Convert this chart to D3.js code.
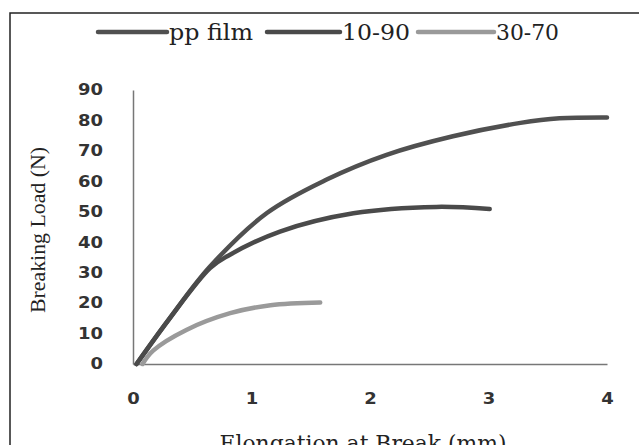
<!DOCTYPE html>
<html>
<head>
<meta charset="utf-8">
<script src="https://cdn.jsdelivr.net/npm/d3@7"></script>
<style>
  body { margin: 0; background: #fff; }
  svg { display: block; }
</style>
</head>
<body>
<div id="chart"></div>
<script>
// series data (elongation mm, load N)
const seriesNames = ["pp film", "10-90", "30-70"];
const ppFilm = [[0.03, 0], [0.3, 14.5], [0.65, 32], [1.13, 49.6], [1.63, 60.5], [2.14, 68.7], [2.7, 74.8], [3.27, 79.2], [3.6, 80.7], [4.0, 81]];
const blend1090 = [[0.03, 0], [0.3, 14.5], [0.65, 31.5], [0.8, 35.5], [1.24, 43.5], [1.86, 49.5], [2.56, 51.6], [3.01, 50.9]];
const blend3070 = [[0.08, 0], [0.17, 4.4], [0.45, 11.2], [0.82, 16.7], [1.16, 19.3], [1.58, 20.2]];
const xTicks = [0, 1, 2, 3, 4];
const yTicks = [0, 10, 20, 30, 40, 50, 60, 70, 80, 90];

const colors = ["#505050", "#4a4a4a", "#9a9a9a"];
const allSeries = [ppFilm, blend1090, blend3070];

const W = 639, H = 445;
const svg = d3.select("#chart").append("svg")
  .attr("width", W).attr("height", H);

// outer frame (runs off the right and bottom edge)
svg.append("rect")
  .attr("x", 10).attr("y", 13)
  .attr("width", 640).attr("height", 450)
  .attr("fill", "none").attr("stroke", "#222").attr("stroke-width", 1.5);

const x = d3.scaleLinear().domain([0, 4]).range([133, 607]);
const y = d3.scaleLinear().domain([0, 90]).range([364, 90]);

// axes
const xAxis = svg.append("g").attr("transform", "translate(0,364)")
  .call(d3.axisBottom(x).tickValues(xTicks).tickSize(0).tickPadding(29).tickFormat(d3.format("d")));
const yAxis = svg.append("g").attr("transform", "translate(133,0)")
  .call(d3.axisLeft(y).tickValues(yTicks).tickSize(0).tickPadding(30).tickFormat(d3.format("d")));

[xAxis, yAxis].forEach(g => {
  g.select(".domain").attr("stroke", "#777").attr("stroke-width", 1.5);
  g.selectAll("text")
    .attr("fill", "#333")
    .attr("textLength", d => String(d).length * 12.5)
    .attr("lengthAdjust", "spacingAndGlyphs")
    .style("font-family", "'DejaVu Sans', sans-serif")
    .style("font-weight", "bold")
    .style("font-size", "15px");
});

// lines
const line = d3.line()
  .x(d => x(d[0]))
  .y(d => y(d[1]))
  .curve(d3.curveCatmullRom.alpha(0.5));

svg.selectAll("path.series")
  .data(allSeries)
  .enter()
  .append("path")
  .attr("class", "series")
  .attr("d", line)
  .attr("fill", "none")
  .attr("stroke", (d, i) => colors[i])
  .attr("stroke-width", 4.5)
  .attr("stroke-linecap", "round");

// legend
const legendX = [98, 267, 418];
const legendLineW = [69, 73, 76];
const legendTextW = [84, 68, 63];
const legend = svg.selectAll("g.legend")
  .data(seriesNames)
  .enter()
  .append("g")
  .attr("class", "legend")
  .attr("transform", (d, i) => `translate(${legendX[i]},32)`);

legend.append("line")
  .attr("x1", 0).attr("x2", (d, i) => legendLineW[i])
  .attr("stroke", (d, i) => colors[i])
  .attr("stroke-width", 4.5)
  .attr("stroke-linecap", "round");

legend.append("text")
  .attr("x", (d, i) => legendLineW[i] + 2).attr("y", 8)
  .attr("fill", "#222")
  .attr("textLength", (d, i) => legendTextW[i])
  .attr("lengthAdjust", "spacingAndGlyphs")
  .style("font-family", "'DejaVu Serif', serif")
  .style("font-size", "22px")
  .text(d => d);

// axis titles
svg.append("text")
  .attr("x", 363).attr("y", 451)
  .attr("text-anchor", "middle")
  .attr("fill", "#222")
  .attr("textLength", 287)
  .attr("lengthAdjust", "spacingAndGlyphs")
  .style("font-family", "'DejaVu Serif', serif")
  .style("font-size", "22px")
  .text("Elongation at Break (mm)");

svg.append("text")
  .attr("transform", "translate(45,230) rotate(-90)")
  .attr("text-anchor", "middle")
  .attr("fill", "#222")
  .attr("textLength", 166)
  .attr("lengthAdjust", "spacingAndGlyphs")
  .style("font-family", "'Liberation Serif', serif")
  .style("font-size", "21px")
  .text("Breaking Load (N)");
</script>
</body>
</html>
